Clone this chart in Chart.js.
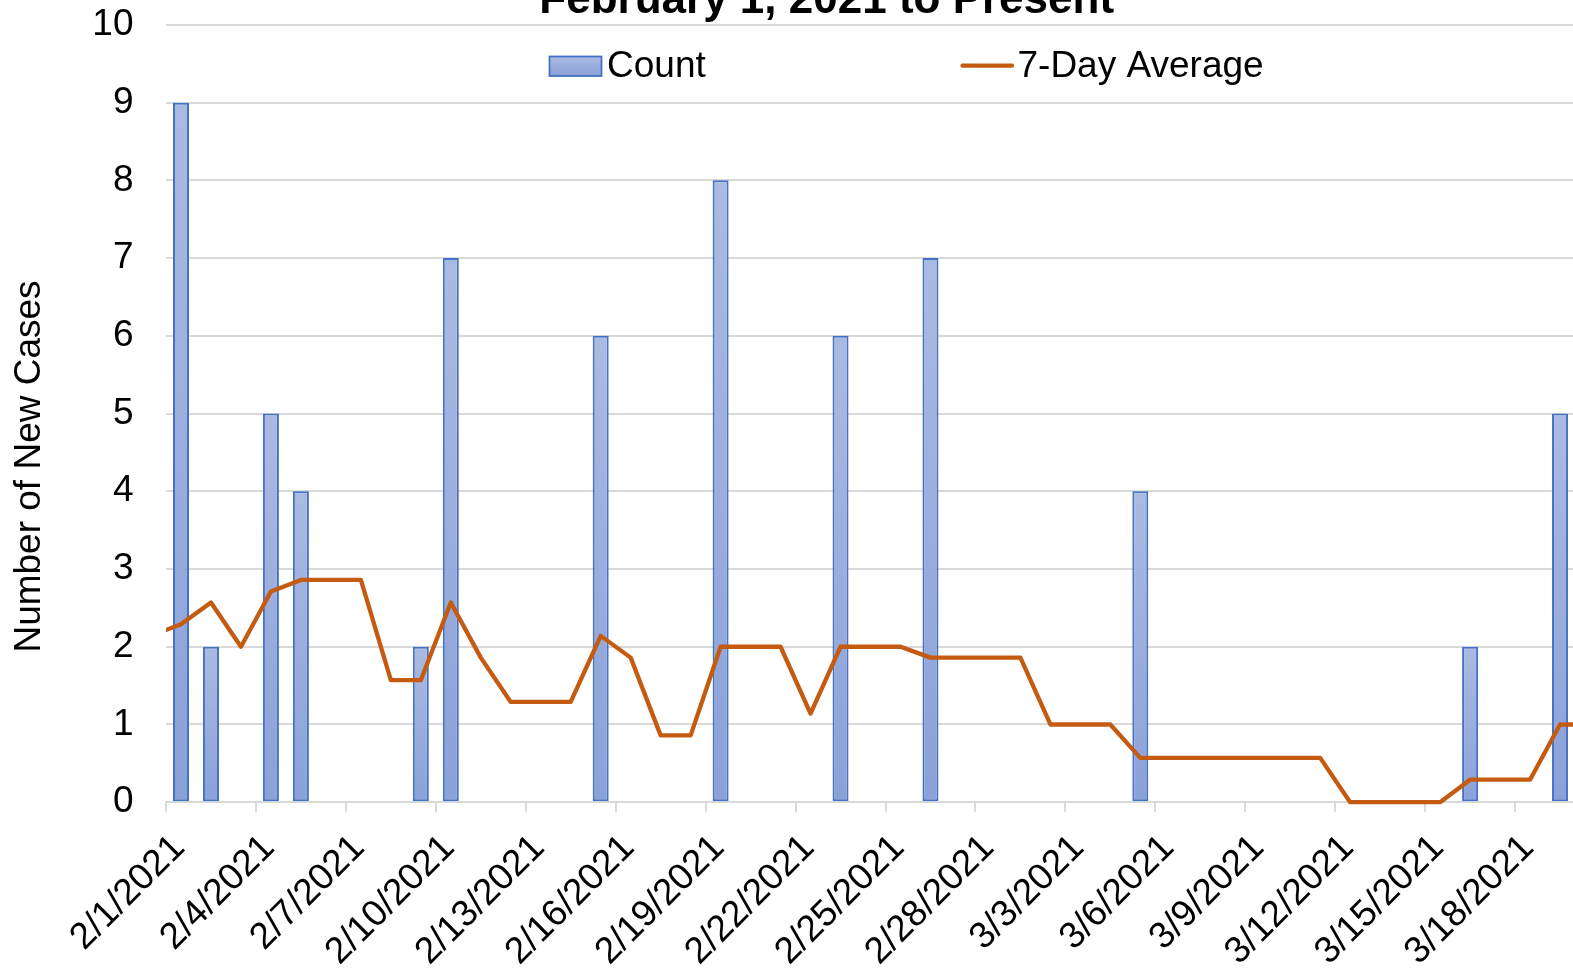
<!DOCTYPE html>
<html>
<head>
<meta charset="utf-8">
<script src="https://cdn.jsdelivr.net/npm/chart.js@4.4.1/dist/chart.umd.min.js"></script>
<style>
  html, body { margin: 0; padding: 0; background: #ffffff; overflow: hidden; width: 1573px; height: 969px; }
  #c { position: absolute; left: 0; top: -32px; }
</style>
</head>
<body>
<canvas id="c" width="1605" height="1020"></canvas>
<script>
// ---------- data ----------
const dates = [
  '1/31/2021',
  '2/1/2021','2/2/2021','2/3/2021','2/4/2021','2/5/2021','2/6/2021','2/7/2021','2/8/2021','2/9/2021','2/10/2021',
  '2/11/2021','2/12/2021','2/13/2021','2/14/2021','2/15/2021','2/16/2021','2/17/2021','2/18/2021','2/19/2021','2/20/2021',
  '2/21/2021','2/22/2021','2/23/2021','2/24/2021','2/25/2021','2/26/2021','2/27/2021','2/28/2021',
  '3/1/2021','3/2/2021','3/3/2021','3/4/2021','3/5/2021','3/6/2021','3/7/2021','3/8/2021','3/9/2021','3/10/2021',
  '3/11/2021','3/12/2021','3/13/2021','3/14/2021','3/15/2021','3/16/2021','3/17/2021','3/18/2021','3/19/2021','3/20/2021'
];
const firstShownDate = '2/1/2021';

const counts = [
  0, 9, 2, 0, 5, 4, 0, 0, 0, 2,
  7, 0, 0, 0, 0, 6, 0, 0, 0, 8,
  0, 0, 0, 6, 0, 0, 7, 0, 0, 0,
  0, 0, 0, 4, 0, 0, 0, 0, 0, 0,
  0, 0, 0, 0, 2, 0, 0, 5, 0
];
const sevenDayAvg = [
  2.14, 2.29, 2.57, 2.00, 2.71, 2.86, 2.86, 2.86, 1.57, 1.57,
  2.57, 1.86, 1.29, 1.29, 1.29, 2.14, 1.86, 0.86, 0.86, 2.00,
  2.00, 2.00, 1.14, 2.00, 2.00, 2.00, 1.86, 1.86, 1.86, 1.86,
  1.00, 1.00, 1.00, 0.57, 0.57, 0.57, 0.57, 0.57, 0.57, 0.57,
  0.00, 0.00, 0.00, 0.00, 0.29, 0.29, 0.29, 1.00, 1.00
];
const yTicks = [0, 1, 2, 3, 4, 5, 6, 7, 8, 9, 10];

const chartTitle = 'February 1, 2021 to Present';
const yAxisTitle = 'Number of New Cases';
const seriesNames = ['Count', '7-Day Average'];

// ---------- styles ----------
const FONT = '"Liberation Sans", Arial, Helvetica, sans-serif';
const BAR_TOP = '#abbae1';
const BAR_BOTTOM = '#8aa1d8';
const BAR_BORDER = '#4472c4';
const LINE_COLOR = '#c55a11';
const GRID = '#d9d9d9';

Chart.defaults.font.family = FONT;
Chart.defaults.color = '#000000';

function barFill(c) {
  const chart = c.chart;
  const y = chart.scales && chart.scales.y;
  if (!y || c.raw == null) return BAR_TOP;
  const top = y.getPixelForValue(c.raw);
  const base = y.getPixelForValue(0);
  if (!isFinite(top) || !isFinite(base) || base - top < 1) return BAR_TOP;
  const g = chart.ctx.createLinearGradient(0, top, 0, base);
  g.addColorStop(0, BAR_TOP);
  g.addColorStop(1, BAR_BOTTOM);
  return g;
}

// legend and y-axis title drawn where the original places them (legend overlaps the plot area)
const overlayText = {
  id: 'overlayText',
  afterDraw(chart, args, o) {
    const ctx = chart.ctx;
    const ds = chart.data.datasets;
    const bar = ds.find(d => d.type === 'bar');
    const line = ds.find(d => d.type === 'line');
    ctx.save();
    // bar swatch
    const g = ctx.createLinearGradient(0, o.boxY, 0, o.boxY + o.boxH);
    g.addColorStop(0, BAR_TOP);
    g.addColorStop(1, BAR_BOTTOM);
    ctx.fillStyle = g;
    ctx.fillRect(o.boxX, o.boxY, o.boxW, o.boxH);
    ctx.strokeStyle = bar.borderColor;
    ctx.lineWidth = 1.8;
    ctx.strokeRect(o.boxX, o.boxY, o.boxW, o.boxH);
    // line swatch
    ctx.strokeStyle = line.borderColor;
    ctx.lineWidth = line.borderWidth;
    ctx.lineCap = 'round';
    ctx.beginPath();
    ctx.moveTo(o.lineX1, o.lineY);
    ctx.lineTo(o.lineX2, o.lineY);
    ctx.stroke();
    // legend labels
    ctx.fillStyle = '#000000';
    ctx.font = o.fontSize + 'px ' + FONT;
    ctx.textBaseline = 'alphabetic';
    ctx.textAlign = 'left';
    ctx.fillText(bar.label, o.text1X, o.textBaseline);
    ctx.fillText(line.label, o.text2X, o.textBaseline);
    // y-axis title
    ctx.translate(o.yTitleX, o.yTitleY);
    ctx.rotate(-Math.PI / 2);
    ctx.textAlign = 'center';
    ctx.textBaseline = 'middle';
    ctx.fillText(o.yTitle, 0, 0);
    ctx.restore();
  }
};

new Chart(document.getElementById('c'), {
  type: 'bar',
  data: {
    labels: dates,
    datasets: [
      {
        type: 'line',
        label: seriesNames[1],
        data: sevenDayAvg,
        borderColor: LINE_COLOR,
        backgroundColor: LINE_COLOR,
        borderWidth: 4.3,
        pointRadius: 0,
        pointHoverRadius: 0,
        tension: 0,
        fill: false,
        borderJoinStyle: 'round',
        borderCapStyle: 'round',
        clip: { left: 0, top: 6, right: 6, bottom: 6 },
        order: 0
      },
      {
        type: 'bar',
        label: seriesNames[0],
        data: counts,
        backgroundColor: barFill,
        borderColor: BAR_BORDER,
        borderWidth: 2,
        borderSkipped: false,
        categoryPercentage: 1.0,
        barPercentage: 0.534,
        order: 1
      }
    ]
  },
  options: {
    responsive: false,
    animation: false,
    events: [],
    layout: { padding: { left: 48.4, right: 0, top: 0, bottom: 0 } },
    plugins: {
      legend: { display: false },
      tooltip: { enabled: false },
      title: {
        display: true,
        text: chartTitle,
        color: '#000000',
        font: { family: FONT, size: 44, weight: 'bold', lineHeight: 1.1 },
        padding: { top: 8.5, bottom: 0 }
      },
      overlayText: {
        boxX: 549.5, boxY: 88.5, boxW: 52, boxH: 19.5,
        lineX1: 962.5, lineX2: 1012, lineY: 97.7,
        text1X: 607, text2X: 1017.5, textBaseline: 109.3,
        fontSize: 37,
        yTitle: yAxisTitle, yTitleX: 30.2, yTitleY: 498.5
      }
    },
    scales: {
      x: {
        type: 'category',
        min: firstShownDate,
        offset: true,
        grid: {
          display: true,
          offset: true,
          drawOnChartArea: false,
          drawTicks: true,
          tickLength: 10,
          lineWidth: 2,
          color: (c) => (typeof c.index === 'number' && c.index % 3 === 0) ? GRID : 'rgba(0,0,0,0)'
        },
        border: { display: true, color: GRID, width: 2 },
        ticks: {
          autoSkip: false,
          minRotation: 45,
          maxRotation: 45,
          padding: 14,
          labelOffset: -2,
          color: '#000000',
          font: { family: FONT, size: 37 },
          callback: function (value, index) {
            return index % 3 === 0 ? this.getLabelForValue(value) : '';
          }
        },
        afterFit: (s) => { s.paddingLeft = 0; s.paddingRight = 0; }
      },
      y: {
        min: yTicks[0],
        max: yTicks[yTicks.length - 1],
        afterBuildTicks: (s) => { s.ticks = yTicks.map(v => ({ value: v })); },
        grid: { color: GRID, lineWidth: 2, drawTicks: false },
        border: { display: false },
        ticks: {
          padding: 32.5,
          color: '#000000',
          font: { family: FONT, size: 37 }
        },
        title: { display: false, text: yAxisTitle },
        afterFit: (s) => { s.width = 117.6; }
      }
    }
  },
  plugins: [overlayText]
});
</script>
</body>
</html>
